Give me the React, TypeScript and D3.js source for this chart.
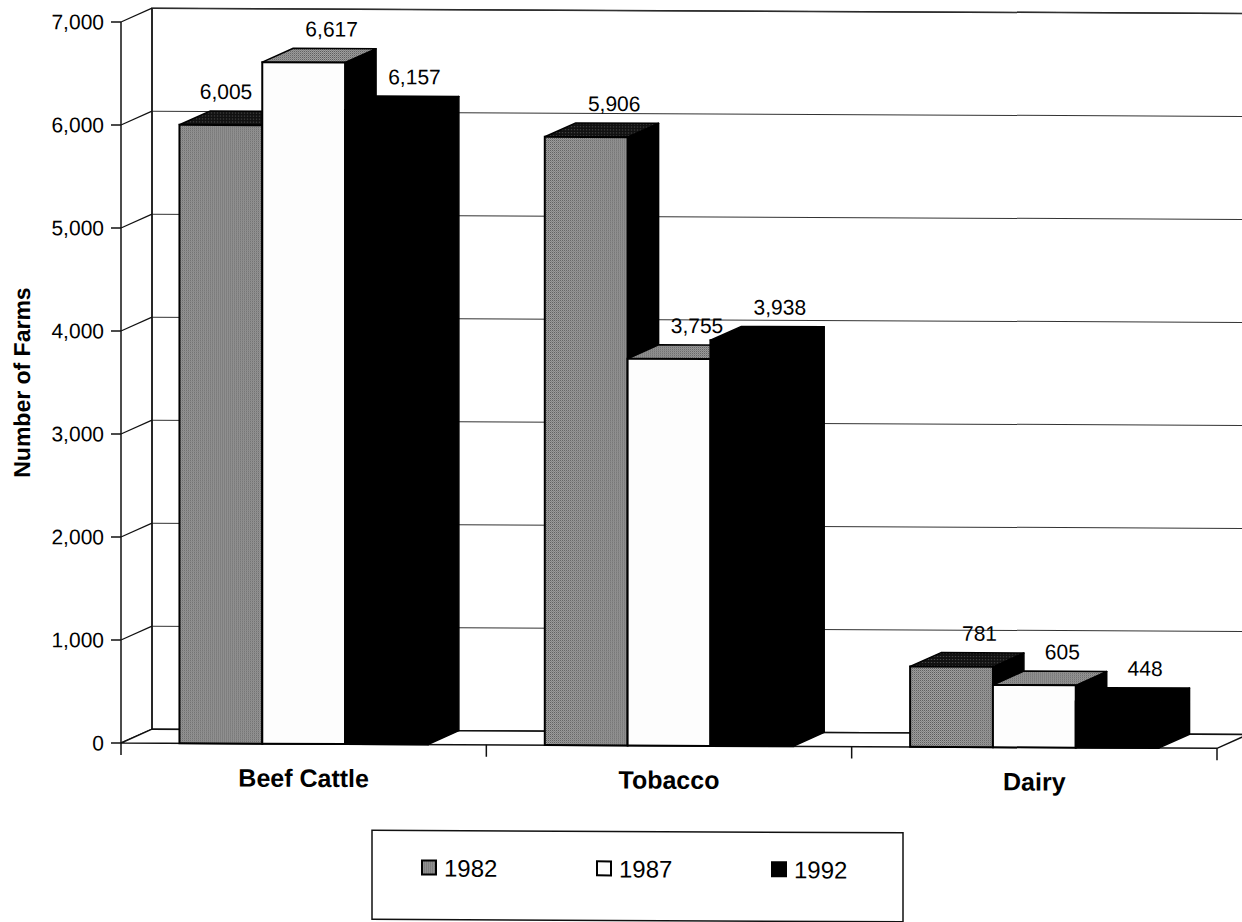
import React, { useEffect, useRef } from "react";
import * as d3 from "d3";

const categories = ["Beef Cattle", "Tobacco", "Dairy"];
const years = ["1982", "1987", "1992"];
const farms1982 = [6005, 5906, 781];
const farms1987 = [6617, 3755, 605];
const farms1992 = [6157, 3938, 448];
const yTicks = [0, 1000, 2000, 3000, 4000, 5000, 6000, 7000];

const WIDTH = 1242;
const HEIGHT = 922;
const FONT = "'Liberation Sans', Arial, Helvetica, sans-serif";

const formatNumber = d3.format(",");

// approximate Arial width of a number label
const labelWidth = (text: string, size: number): number =>
  text.split("").reduce((w, ch) => w + (ch === "," ? 0.278 : 0.556), 0) * size;

const drawChart = (svgElement: SVGSVGElement): void => {
  const svg = d3.select(svgElement);
  svg.selectAll("*").remove();

  const left = 121;
  const right = 1217;
  const floorY = 743;
  const topY = 22;
  const depthX = 31;
  const depthY = -14;

  const y = d3.scaleLinear().domain([0, 7000]).range([floorY, topY]);
  const x0 = d3.scaleBand<string>().domain(categories).range([left, right]);
  const bw = x0.bandwidth();
  const x1 = d3.scaleBand<string>().domain(years).range([bw * 0.16, bw * 0.84]);
  const barW = x1.bandwidth();

  const seriesValues: Record<string, number[]> = {
    "1982": farms1982,
    "1987": farms1987,
    "1992": farms1992,
  };

  // stipple patterns, like the halftone of the print
  const defs = svg.append("defs");
  const stipple = defs
    .append("pattern")
    .attr("id", "stipple")
    .attr("width", 2)
    .attr("height", 2)
    .attr("patternUnits", "userSpaceOnUse");
  stipple.append("rect").attr("width", 2).attr("height", 2).attr("fill", "#aaaaaa");
  stipple.append("rect").attr("width", 1).attr("height", 1).attr("fill", "#4e4e4e");
  stipple.append("rect").attr("x", 1).attr("y", 1).attr("width", 1).attr("height", 1).attr("fill", "#7a7a7a");

  const darkStipple = defs
    .append("pattern")
    .attr("id", "darkStipple")
    .attr("width", 3)
    .attr("height", 3)
    .attr("patternUnits", "userSpaceOnUse");
  darkStipple.append("rect").attr("width", 3).attr("height", 3).attr("fill", "#111111");
  darkStipple.append("rect").attr("x", 1).attr("y", 1).attr("width", 1).attr("height", 1).attr("fill", "#666666");

  const faceFill: Record<string, { front: string; top: string; side: string }> = {
    "1982": { front: "url(#stipple)", top: "url(#darkStipple)", side: "#000" },
    "1987": { front: "#fdfdfd", top: "url(#stipple)", side: "#000" },
    "1992": { front: "#000", top: "#000", side: "#000" },
  };

  svg.append("rect").attr("width", WIDTH).attr("height", HEIGHT).attr("fill", "#fff");

  // the scan is slightly skewed, right side sits a few px lower
  const g = svg
    .append("g")
    .attr("transform", `translate(${left},${floorY}) skewY(0.28) translate(${-left},${-floorY})`);

  const line = (x1p: number, y1p: number, x2p: number, y2p: number, w = 1.2, c = "#111") =>
    g
      .append("line")
      .attr("x1", x1p)
      .attr("y1", y1p)
      .attr("x2", x2p)
      .attr("y2", y2p)
      .attr("stroke", c)
      .attr("stroke-width", w);

  // Back wall
  g.append("polygon")
    .attr(
      "points",
      [
        [left + depthX, floorY + depthY],
        [left + depthX, topY + depthY],
        [right + depthX, topY + depthY],
        [right + depthX, floorY + depthY],
      ].join(" ")
    )
    .attr("fill", "#fff")
    .attr("stroke", "#111")
    .attr("stroke-width", 1.5);

  // Gridlines on back wall and left wall
  yTicks.forEach((t) => {
    if (t > 0) line(left + depthX, y(t) + depthY, right + depthX, y(t) + depthY, 1, "#333");
    line(left, y(t), left + depthX, y(t) + depthY, 1.2, "#111");
  });
  line(left + depthX, floorY + depthY, left + depthX, topY + depthY, 1.2, "#111");

  // Floor
  g.append("polygon")
    .attr(
      "points",
      [
        [left, floorY],
        [right, floorY],
        [right + depthX, floorY + depthY],
        [left + depthX, floorY + depthY],
      ].join(" ")
    )
    .attr("fill", "#fff")
    .attr("stroke", "#111")
    .attr("stroke-width", 1.5);

  // Front vertical axis
  line(left, floorY, left, topY, 1.5, "#111");
  yTicks.forEach((t) => {
    line(left - 10, y(t), left, y(t), 1.5, "#111");
    g.append("text")
      .attr("x", left - 17)
      .attr("y", y(t))
      .attr("dy", "0.36em")
      .attr("text-anchor", "end")
      .attr("font-family", FONT)
      .attr("font-size", 21)
      .attr("fill", "#000")
      .text(formatNumber(t));
  });

  // Category tick marks below the floor
  const boundaries = [...categories.map((c) => x0(c) as number), right];
  boundaries.forEach((bx) => line(bx, floorY, bx, floorY + 12, 1.5, "#111"));

  // Bars, drawn left to right so each hides its neighbour's side
  categories.forEach((cat, ci) => {
    years.forEach((yr, si) => {
      const v = seriesValues[yr][ci];
      const bx = (x0(cat) as number) + (x1(yr) as number);
      const yt = y(v);
      const fill = faceFill[yr];
      const barG = g.append("g");

      barG
        .append("polygon")
        .attr(
          "points",
          [
            [bx + barW, yt],
            [bx + barW + depthX, yt + depthY],
            [bx + barW + depthX, floorY + depthY],
            [bx + barW, floorY],
          ].join(" ")
        )
        .attr("fill", fill.side)
        .attr("stroke", "#000")
        .attr("stroke-width", 1.5)
        .attr("stroke-linejoin", "round");

      barG
        .append("polygon")
        .attr(
          "points",
          [
            [bx, yt],
            [bx + depthX, yt + depthY],
            [bx + barW + depthX, yt + depthY],
            [bx + barW, yt],
          ].join(" ")
        )
        .attr("fill", fill.top)
        .attr("stroke", "#000")
        .attr("stroke-width", 1.5)
        .attr("stroke-linejoin", "round");

      barG
        .append("rect")
        .attr("x", bx)
        .attr("y", yt)
        .attr("width", barW)
        .attr("height", floorY - yt)
        .attr("fill", fill.front)
        .attr("stroke", "#000")
        .attr("stroke-width", 2);

      void si;
    });
  });

  // Value labels, above the back of each bar top
  const labelSize = 21;
  categories.forEach((cat, ci) => {
    years.forEach((yr, si) => {
      const v = seriesValues[yr][ci];
      const txt = formatNumber(v);
      const bx = (x0(cat) as number) + (x1(yr) as number);
      const baseline = y(v) + depthY - 12;
      let cx = bx + barW / 2 + depthX - 3;
      const half = labelWidth(txt, labelSize) / 2;
      const nextYr = years[si + 1];
      if (nextYr) {
        const nextV = seriesValues[nextYr][ci];
        const nextX = (x0(cat) as number) + (x1(nextYr) as number);
        if (y(nextV) < baseline && cx + half > nextX - 10) cx = nextX - 10 - half;
      }
      g.append("text")
        .attr("x", cx)
        .attr("y", baseline)
        .attr("text-anchor", "middle")
        .attr("font-family", FONT)
        .attr("font-size", labelSize)
        .attr("fill", "#000")
        .text(txt);
    });
  });

  // Category labels
  categories.forEach((cat) => {
    g.append("text")
      .attr("x", (x0(cat) as number) + bw / 2)
      .attr("y", 786)
      .attr("text-anchor", "middle")
      .attr("font-family", FONT)
      .attr("font-size", 25)
      .attr("font-weight", "bold")
      .attr("fill", "#000")
      .text(cat);
  });

  // Y axis title
  g.append("text")
    .attr("transform", "translate(30,383) rotate(-90)")
    .attr("text-anchor", "middle")
    .attr("font-family", FONT)
    .attr("font-size", 23)
    .attr("font-weight", "bold")
    .attr("fill", "#000")
    .text("Number of Farms");

  // Legend
  const legendX = 372;
  const legendY = 829;
  g.append("rect")
    .attr("x", legendX)
    .attr("y", legendY)
    .attr("width", 531)
    .attr("height", 89)
    .attr("fill", "#fff")
    .attr("stroke", "#111")
    .attr("stroke-width", 1.5);

  const legendScale = d3.scalePoint<string>().domain(years).range([422, 772]);
  const legendFill: Record<string, string> = {
    "1982": "url(#stipple)",
    "1987": "#fdfdfd",
    "1992": "#000",
  };
  years.forEach((yr) => {
    const lx = legendScale(yr) as number;
    g.append("rect")
      .attr("x", lx)
      .attr("y", 859)
      .attr("width", 14)
      .attr("height", 14)
      .attr("fill", legendFill[yr])
      .attr("stroke", "#000")
      .attr("stroke-width", 2);
    g.append("text")
      .attr("x", lx + 22)
      .attr("y", 875)
      .attr("font-family", FONT)
      .attr("font-size", 24)
      .attr("fill", "#000")
      .text(yr);
  });
};

const App: React.FC = () => {
  const svgRef = useRef<SVGSVGElement>(null);

  useEffect(() => {
    document.body.style.margin = "0";
    if (svgRef.current) {
      drawChart(svgRef.current);
    }
  }, []);

  return (
    <svg
      ref={svgRef}
      width={WIDTH}
      height={HEIGHT}
      style={{ display: "block", position: "absolute", left: 0, top: 0 }}
    />
  );
};

export default App;
